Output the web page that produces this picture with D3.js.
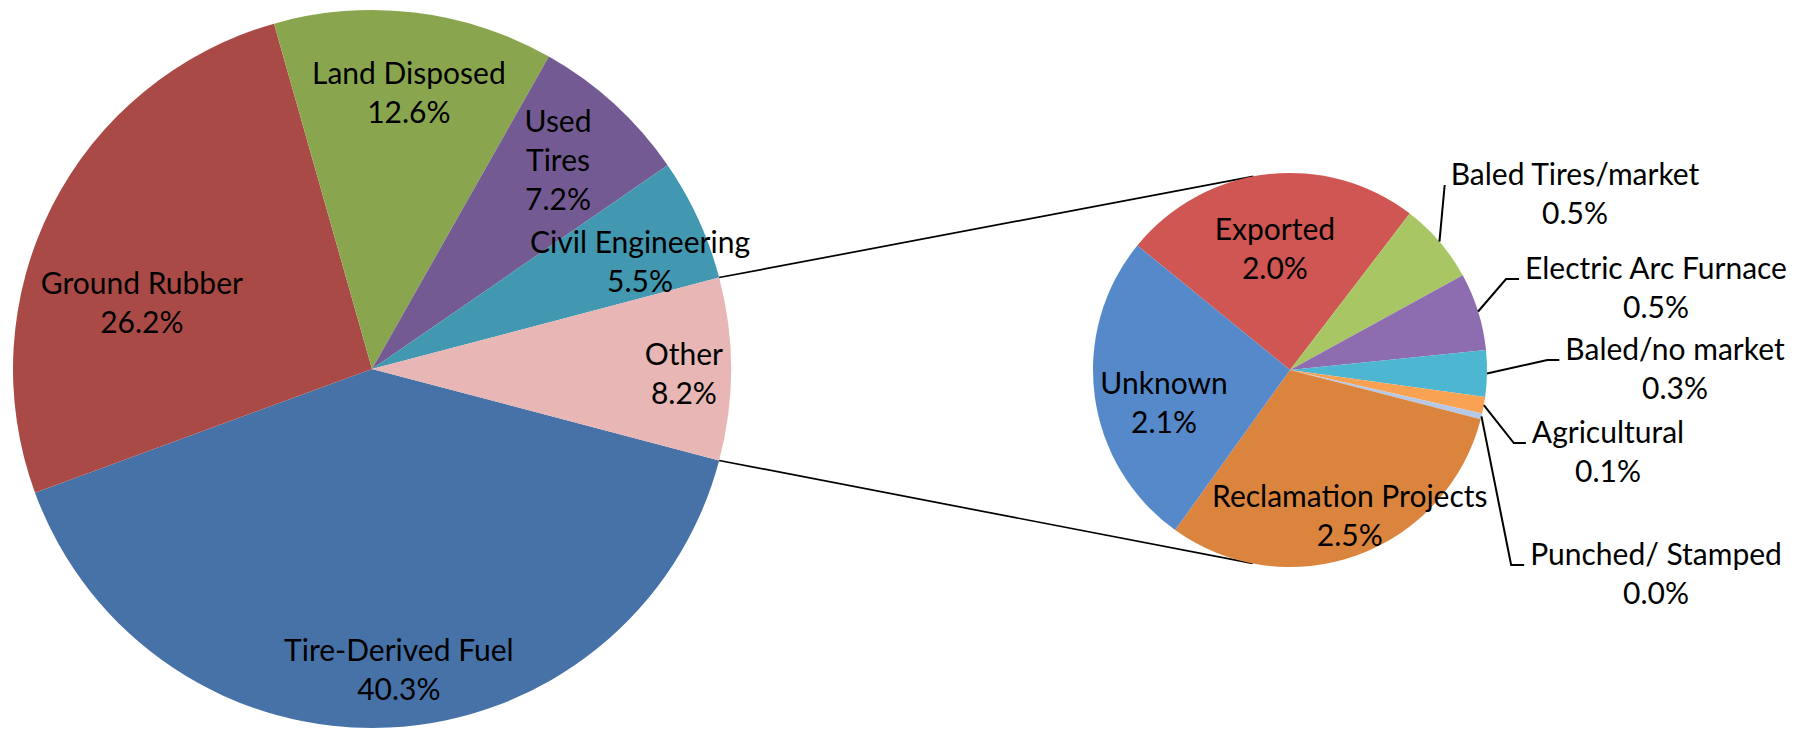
<!DOCTYPE html>
<html>
<head>
<meta charset="utf-8">
<script src="https://cdn.jsdelivr.net/npm/d3@7"></script>
<style>
    body { margin: 0; background: #fff; }
    text { font-family: Lato, "Open Sans", sans-serif; font-size: 30px; fill: #000; }
</style>
</head>
<body>
<div id="chart"></div>
<script>

// main pie, clockwise; "Other" is split out into the second pie
var mainCategories = ["Tire-Derived Fuel", "Ground Rubber", "Land Disposed", "Used Tires", "Civil Engineering", "Other"];
var mainValues = [40.3, 26.2, 12.6, 7.2, 5.5, 8.2];
var mainColors = ["#4672A8", "#AA4A46", "#89A64F", "#735A93", "#4298B0", "#E8B7B5"];

// breakdown of "Other", clockwise from Exported
var otherCategories = ["Exported", "Baled Tires/market", "Electric Arc Furnace", "Baled/no market",
    "Agricultural", "Punched/ Stamped", "Reclamation Projects", "Unknown"];
var otherValues = [2.0, 0.54, 0.52, 0.31, 0.11, 0.04, 2.52, 2.12];
var otherColors = ["#CF5652", "#A8C764", "#8E6CB0", "#4DB6D1", "#F9A254", "#B5C9E6", "#DB843E", "#5689C9"];

var width = 1802, height = 731;
var lineHeight = 39;

var main = { cx: 372, cy: 369, r: 359 };
var sub = { cx: 1290, cy: 370, r: 197 };

// label placement: block centre as [angle in degrees, fraction of radius]
var mainLabelPos = {
    "Tire-Derived Fuel": [174.9, 0.842],
    "Ground Rubber": [286, 0.667],
    "Land Disposed": [7.6, 0.776],
    "Used Tires": [41.7, 0.779, true],
    "Civil Engineering": [68.2, 0.804],
    "Other": [91, 0.869]
};
var innerLabelPos = {
    "Exported": [-7.1, 0.62],
    "Reclamation Projects": [157.7, 0.80],
    "Unknown": [255.3, 0.661]
};
// outside labels: block centre offset from the second pie centre, leader tail length
var outerLabelPos = {
    "Baled Tires/market": [285, -176, 0],
    "Electric Arc Furnace": [366, -82, 13],
    "Baled/no market": [385, -1, 12],
    "Agricultural": [318, 82, 12],
    "Punched/ Stamped": [366, 204, 13]
};

var svg = d3.select("#chart").append("svg")
    .attr("width", width)
    .attr("height", height);

var rad = Math.PI / 180;
var fmt = function (v) { return v.toFixed(1) + "%"; };

function polar(c, angle, rr) {
    return [c.cx + rr * Math.sin(angle), c.cy - rr * Math.cos(angle)];
}

function drawBlock(g, lines, x, y) {
    var t = g.append("text")
        .attr("text-anchor", "middle");
    lines.forEach(function (s, i) {
        t.append("tspan")
            .attr("x", x)
            .attr("y", y + (i - (lines.length - 1) / 2) * lineHeight)
            .attr("dy", "0.35em")
            .text(s);
    });
    return t;
}

// ---- main pie
var mainData = mainCategories.map(function (c, i) { return { name: c, value: mainValues[i], color: mainColors[i] }; });
var mainTotal = d3.sum(mainValues);
var otherFrac = mainValues[mainValues.length - 1] / mainTotal;
// the "Other" slice is centred on 3 o'clock
var a0 = Math.PI / 2 - 2 * Math.PI + otherFrac * Math.PI;

var mainPie = d3.pie().sort(null).value(function (d) { return d.value; })
    .startAngle(a0).endAngle(a0 + 2 * Math.PI);
var mainArc = d3.arc().innerRadius(0).outerRadius(main.r);
var mainArcs = mainPie(mainData);

var gMain = svg.append("g");
gMain.append("g")
    .attr("transform", "translate(" + main.cx + "," + main.cy + ")")
    .selectAll("path")
    .data(mainArcs)
    .enter().append("path")
    .attr("d", mainArc)
    .attr("fill", function (d) { return d.data.color; });

mainArcs.forEach(function (d) {
    var p = mainLabelPos[d.data.name];
    var pos = polar(main, p[0] * rad, p[1] * main.r);
    var lines = p[2] ? d.data.name.split(" ") : [d.data.name];
    lines.push(fmt(d.data.value));
    drawBlock(gMain, lines, pos[0], pos[1]);
});

// ---- connector lines: tangents from the edges of "Other" to the second pie
var otherArc = mainArcs[mainArcs.length - 1];
function tangent(p, upper) {
    var dx = sub.cx - p[0], dy = sub.cy - p[1];
    var d = Math.sqrt(dx * dx + dy * dy);
    var th = Math.atan2(dy, dx);
    var al = Math.asin(sub.r / d) * (upper ? -1 : 1);
    var len = Math.sqrt(d * d - sub.r * sub.r);
    return [p[0] + len * Math.cos(th + al), p[1] + len * Math.sin(th + al)];
}
var pTop = polar(main, otherArc.startAngle, main.r);
var pBot = polar(main, otherArc.endAngle, main.r);
svg.append("g").selectAll("line")
    .data([[pTop, tangent(pTop, true)], [pBot, tangent(pBot, false)]])
    .enter().append("line")
    .attr("x1", function (d) { return d[0][0]; })
    .attr("y1", function (d) { return d[0][1]; })
    .attr("x2", function (d) { return d[1][0]; })
    .attr("y2", function (d) { return d[1][1]; })
    .attr("stroke", "#000")
    .attr("stroke-width", 1.7);

// ---- second pie
var otherData = otherCategories.map(function (c, i) { return { name: c, value: otherValues[i], color: otherColors[i] }; });
var b0 = -50.8 * rad;
var subPie = d3.pie().sort(null).value(function (d) { return d.value; })
    .startAngle(b0).endAngle(b0 + 2 * Math.PI);
var subArc = d3.arc().innerRadius(0).outerRadius(sub.r);
var subArcs = subPie(otherData);

var gSub = svg.append("g");
gSub.append("g")
    .attr("transform", "translate(" + sub.cx + "," + sub.cy + ")")
    .selectAll("path")
    .data(subArcs)
    .enter().append("path")
    .attr("d", subArc)
    .attr("fill", function (d) { return d.data.color; });

subArcs.forEach(function (d) {
    var name = d.data.name;
    var lines = [name, fmt(d.data.value)];
    if (innerLabelPos[name]) {
        var p = innerLabelPos[name];
        var pos = polar(sub, p[0] * rad, p[1] * sub.r);
        drawBlock(gSub, lines, pos[0], pos[1]);
        return;
    }
    var o = outerLabelPos[name];
    var bx = sub.cx + o[0], by = sub.cy + o[1];
    var t = drawBlock(gSub, lines, bx, by);
    var left = t.node().getBBox().x;
    var mid = (d.startAngle + d.endAngle) / 2;
    var start = polar(sub, mid, sub.r);
    var ay = by - 9;
    var end = left - 6;
    gSub.append("polyline")
        .attr("points", [start, [end - o[2], ay], [end, ay]].join(" "))
        .attr("fill", "none")
        .attr("stroke", "#000")
        .attr("stroke-width", 2);
});

</script>
</body>
</html>
